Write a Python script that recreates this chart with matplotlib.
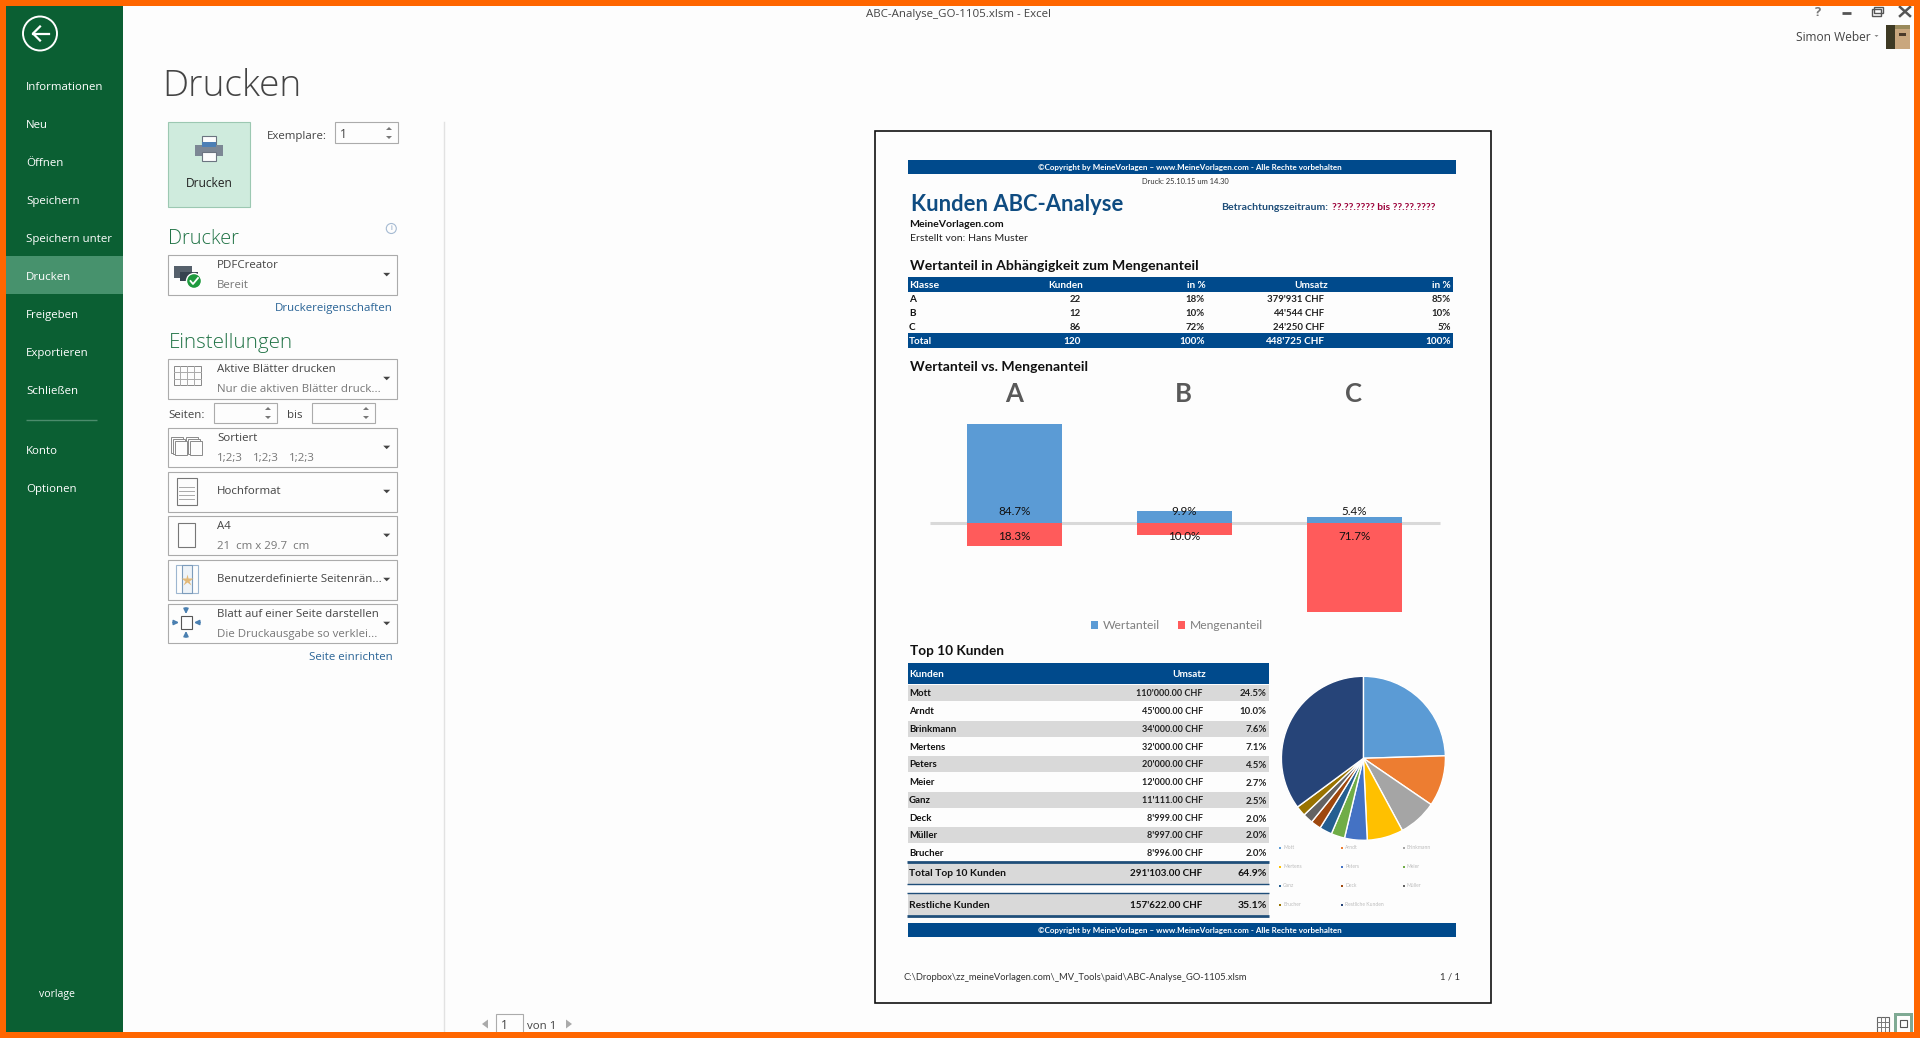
import matplotlib
matplotlib.use("Agg")
import matplotlib.pyplot as plt
from matplotlib.patches import Circle, Polygon, Rectangle

W, H = 1920, 1038

# chart data
classes = ["A", "B", "C"]
wertanteil = [84.7, 9.9, 5.4]
mengenanteil = [18.3, 10.0, 71.7]

kunden_names = ["Mott", "Arndt", "Brinkmann", "Mertens", "Peters", "Meier",
                "Ganz", "Deck", "Müller", "Brucher"]
kunden_umsatz = ["110'000.00 CHF", "45'000.00 CHF", "34'000.00 CHF", "32'000.00 CHF",
                 "20'000.00 CHF", "12'000.00 CHF", "11'111.00 CHF", "8'999.00 CHF",
                 "8'997.00 CHF", "8'996.00 CHF"]
kunden_pct = ["24.5%", "10.0%", "7.6%", "7.1%", "4.5%", "2.7%", "2.5%", "2.0%", "2.0%", "2.0%"]

pie_labels = kunden_names + ["Restliche Kunden"]
pie_values = [110000, 45000, 34000, 32000, 20000, 12000, 11111, 8999, 8997, 8996, 157622]
pie_colors = ["#5B9BD5", "#ED7D31", "#A5A5A5", "#FFC000", "#4472C4", "#70AD47",
              "#255E91", "#9E480E", "#636363", "#997300", "#264478"]

abc_rows = [
    ["A", "22", "18%", "379'931 CHF", "85%"],
    ["B", "12", "10%", "44'544 CHF", "10%"],
    ["C", "86", "72%", "24'250 CHF", "5%"],
]
abc_total = ["Total", "120", "100%", "448'725 CHF", "100%"]

menu_items = [("Informationen", 86), ("Neu", 124), ("Öffnen", 162), ("Speichern", 200),
              ("Speichern unter", 238), ("Drucken", 276), ("Freigeben", 314),
              ("Exportieren", 352), ("Schließen", 390), ("Konto", 450), ("Optionen", 488)]

NAVY = "#004A8C"
GREEN = "#0B5F33"
UI = "Open Sans"
DOC = "Lato"

plt.rcParams["font.family"] = [UI, "DejaVu Sans"]

fig = plt.figure(figsize=(W / 100, H / 100), dpi=100, facecolor="#FDFDFD")
# pixel canvas for the window chrome and the printed page
bg = fig.add_axes([0, 0, 1, 1])
bg.set_xlim(0, W)
bg.set_ylim(H, 0)
bg.axis("off")


def rect(x0, y0, x1, y1, fc="none", ec="none", lw=0.0, z=1):
    bg.add_patch(Rectangle((x0, y0), x1 - x0, y1 - y0, facecolor=fc, edgecolor=ec, linewidth=lw, zorder=z))


def txt(x, y, s, px=12, color="#444444", ha="left", weight="normal", family=UI, z=5):
    # va center sits a little high, so nudge down one pixel
    bg.text(x, y + 1, s, fontsize=px * 0.72, color=color, ha=ha, va="center",
            fontweight=weight, family=[family, "DejaVu Sans"], zorder=z)


def hline(x0, x1, y, color, lw):
    bg.plot([x0, x1], [y, y], color=color, lw=lw, solid_capstyle="butt", zorder=4)


def caret(x, y, color="#444444", size=4, up=False):
    d = -size if up else size
    bg.add_patch(Polygon([(x - size, y - d / 2), (x + size, y - d / 2), (x, y + d / 2)],
                         facecolor=color, edgecolor="none", zorder=5))


def side_arrow(x, y, direction, color):
    bg.add_patch(Polygon([(x, y - 4.5), (x, y + 4.5), (x + 6 * direction, y)],
                         facecolor=color, edgecolor="none", zorder=5))


# ---- window frame and sidebar
rect(0, 0, W, 6, fc="#FF6600", z=9)
rect(0, 1032, W, H, fc="#FF6600", z=9)
rect(0, 0, 6, H, fc="#FF6600", z=9)
rect(1914, 0, W, H, fc="#FF6600", z=9)
rect(6, 6, 123, 1032, fc=GREEN)
rect(6, 256, 123, 294, fc="#47926D", z=2)
bg.add_patch(Circle((40, 33.5), 17, facecolor="none", edgecolor="white", lw=1.4, zorder=4))
bg.plot([33, 49], [33.5, 33.5], color="white", lw=1.6, zorder=4)
bg.plot([40, 33, 40], [26.5, 33.5, 40.5], color="white", lw=1.6, zorder=4)
for name, y in menu_items:
    txt(26, y + 0.3, name, px=11.5, color="white")
hline(26, 97, 419.5, "#4C8C6C", 1)
txt(57, 993, "vorlage", px=10.5, color="white", ha="center")

txt(959, 13, "ABC-Analyse_GO-1105.xlsm - Excel", px=11.5, color="#444444", ha="center")
txt(1817, 12, "?", px=13, color="#777777", ha="center", weight="bold")
hline(1842, 1851, 12.5, "#555555", 2)
rect(1872, 9, 1881, 16, ec="#555555", lw=1, z=4)
rect(1874, 7, 1883, 13, ec="#555555", lw=1, z=4)
bg.plot([1900, 1910], [7, 16], color="#555555", lw=1.8, zorder=4)
bg.plot([1900, 1910], [16, 7], color="#555555", lw=1.8, zorder=4)
txt(1796, 36.5, "Simon Weber", px=12, color="#444444")
caret(1876.5, 36, color="#888888", size=2)
# avatar
rect(1886, 25, 1910, 49, fc="#C9A77E", z=3)
rect(1886, 25, 1895, 49, fc="#3E3A24", z=4)
rect(1895, 25, 1910, 29, fc="#9A8A5C", z=4)
rect(1899, 33, 1906, 36, fc="#4A3A2A", z=4)

# ---- left print pane
txt(162, 85, "Drucken", px=37, color="#444444", weight="light")
rect(168, 122, 249.5, 207, fc="#CFEBDD", ec="#9CC8B2", lw=0.8)
# printer glyph
rect(202, 136, 216, 146, fc="#FDFDFD", ec="#6B7480", lw=0.8, z=3)
rect(195, 145, 223, 156, fc="#7C8794", z=3)
rect(202, 142, 216, 147, fc="#4C7FB5", z=4)
rect(202, 152, 216, 161, fc="#FDFDFD", ec="#6B7480", lw=0.8, z=4)
txt(209, 182.5, "Drucken", px=12, color="#222222", ha="center", weight="medium")

txt(267, 135, "Exemplare:", px=11.5)
rect(335, 122, 397.5, 143, fc="#FDFDFD", ec="#ABABAB", lw=0.8)
txt(340, 133.5, "1", px=12)
caret(389, 128.5, color="#777777", size=3, up=True)
caret(389, 137.5, color="#777777", size=3)

txt(168.5, 238.5, "Drucker", px=20, color="#217346", weight="light")
bg.add_patch(Circle((391.3, 228.5), 5, facecolor="none", edgecolor="#A5BAD2", lw=0.8, zorder=4))
txt(391.3, 227.5, "i", px=7, color="#6E8FB5", ha="center")
txt(168.5, 342, "Einstellungen", px=20.5, color="#217346", weight="light")

combos = [
    (254.7, 294.5, "PDFCreator", "Bereit"),
    (358.5, 398.5, "Aktive Blätter drucken", "Nur die aktiven Blätter druck..."),
    (427.5, 467.3, "Sortiert", None),
    (471.5, 511.5, "Hochformat", None),
    (515.5, 555.3, "A4", "21  cm x 29.7  cm"),
    (559.5, 599.5, "Benutzerdefinierte Seitenrän...", None),
    (603.5, 643.4, "Blatt auf einer Seite darstellen", "Die Druckausgabe so verklei..."),
]
for y0, y1, first, second in combos:
    rect(168, y0, 396.5, y1, fc="#FDFDFD", ec="#ABABAB", lw=0.8)
    caret(386.7, (y0 + y1) / 2, color="#444444", size=3.5)
    if second is not None or first == "Sortiert":
        txt(217, y0 + 10.3, first, px=11.5)
        if second:
            txt(217, y0 + 30.3, second, px=11.5, color="#777777")
    else:
        txt(217, (y0 + y1) / 2 - 1, first, px=11.5)
for x in (217.3, 253.3, 289.3):
    txt(x, 457.5, "1;2;3", px=11.5, color="#777777")

# combo glyphs
rect(174, 266, 192, 278, fc="#55606B", z=3)
rect(180, 272, 198, 281, fc="#36424E", z=3)
bg.add_patch(Circle((194, 281), 7.5, facecolor="#1E9A3E", edgecolor="white", lw=1, zorder=4))
bg.plot([190.5, 193, 198], [281, 284, 278], color="white", lw=1.3, zorder=5)
rect(173.5, 366, 200.5, 385, ec="#888888", lw=0.7, z=3)
for x in (180, 187, 194):
    bg.plot([x, x], [366, 385], color="#AAAAAA", lw=0.7, zorder=3)
for y in (372, 378.5):
    bg.plot([173.5, 200.5], [y, y], color="#AAAAAA", lw=0.7, zorder=3)
for x in (171, 186):
    for dx in (0, 2, 4):
        rect(x + dx, 437 + dx, x + dx + 12, 453 + dx * 0.6, fc="#FDFDFD", ec="#8A8A8A", lw=0.7, z=3 + dx)
rect(176.5, 477.5, 196.5, 505, ec="#777777", lw=0.8, z=3)
for y in (487, 491, 495, 499):
    bg.plot([179, 194], [y, y], color="#AAAAAA", lw=0.7, zorder=3)
rect(178, 523, 194.5, 546.5, ec="#777777", lw=0.8, z=3)
rect(176, 565, 197.5, 592.5, ec="#9DB6D0", lw=0.8, z=3)
rect(182, 565, 192, 592.5, fc="#EEF3F8", ec="#7C9CBC", lw=0.8, z=3)
bg.plot([186.8], [579.5], marker="*", ms=9, color="#E3B978", mec="none", zorder=5)
rect(181, 616, 192, 629, fc="#FDFDFD", ec="#555555", lw=0.8, z=3)
for a, b in [((186, 608), (186, 614)), ((186, 637), (186, 631)),
             ((173, 622.5), (179, 622.5)), ((200, 622.5), (194, 622.5))]:
    bg.annotate("", xy=b, xytext=a, arrowprops=dict(arrowstyle="-|>", color="#4A7FB0", lw=1.2,
                                                    mutation_scale=7, shrinkA=0, shrinkB=0))

txt(393, 307, "Druckereigenschaften", px=11.5, color="#2A6496", ha="right")
txt(393, 656, "Seite einrichten", px=11.5, color="#2A6496", ha="right")

txt(168, 414, "Seiten:", px=11.5)
txt(286.5, 414, "bis", px=11.5)
for x0, x1 in [(214, 276.5), (312, 374.5)]:
    rect(x0, 402.5, x1, 423.3, fc="#FDFDFD", ec="#ABABAB", lw=0.8)
    caret(x1 - 8.5, 408.5, color="#777777", size=3, up=True)
    caret(x1 - 8.5, 417.5, color="#777777", size=3)

bg.plot([444, 444], [122, 1032], color="#E2E2E2", lw=1, zorder=1)

# ---- page navigation and view buttons
side_arrow(488, 1024, -1, "#AAAAAA")
rect(496, 1014, 523, 1034, fc="#FDFDFD", ec="#ABABAB", lw=0.8, z=3)
txt(501, 1024.5, "1", px=12)
txt(527, 1025.5, "von 1", px=11.5)
side_arrow(566, 1024, 1, "#AAAAAA")
rect(1877, 1017, 1889, 1032, ec="#666666", lw=0.8, z=3)
bg.plot([1877, 1889], [1022, 1022], color="#777777", lw=0.7, zorder=3)
bg.plot([1877, 1889], [1027, 1027], color="#777777", lw=0.7, zorder=3)
bg.plot([1881, 1881], [1017, 1032], color="#777777", lw=0.7, zorder=3)
bg.plot([1885, 1885], [1017, 1032], color="#777777", lw=0.7, zorder=3)
rect(1894, 1013, 1913, 1032, fc="#7FAA94", z=3)
rect(1897, 1016, 1910, 1032, fc="#FDFDFD", z=4)
rect(1900, 1020, 1907, 1027, ec="#555555", lw=0.8, z=5)

# ---- printed page
rect(874.5, 130.5, 1491, 1003, fc="#FDFDFD", ec="#111111", lw=1.2, z=1)
rect(908, 160, 1456, 173.7, fc=NAVY, z=2)
COPY = "©Copyright by MeineVorlagen – www.MeineVorlagen.com - Alle Rechte vorbehalten"
txt(1189.5, 166.5, COPY, px=8, color="white", ha="center", weight="bold", family=DOC)
txt(1185.5, 180.5, "Druck: 25.10.15 um 14.30", px=7.5, color="#333333", ha="center", family=DOC)
txt(911, 203.5, "Kunden ABC-Analyse", px=22, color="#0F4C81", weight="bold", family=DOC)
txt(1221.5, 206.5, "Betrachtungszeitraum:", px=10.5, color="#1F4E79", weight="bold", family=DOC)
txt(1332, 206.5, "??.??.???? bis ??.??.????", px=10.2, color="#9C0039", weight="bold", family=DOC)
txt(909.5, 223.5, "MeineVorlagen.com", px=10.5, color="#111111", weight="bold", family=DOC)
txt(909.5, 237.5, "Erstellt von: Hans Muster", px=10.5, color="#222222", family=DOC)
txt(910.5, 265.5, "Wertanteil in Abhängigkeit zum Mengenanteil", px=14, color="#111111", weight="bold", family=DOC)
txt(910.5, 366, "Wertanteil vs. Mengenanteil", px=14, color="#111111", weight="bold", family=DOC)
txt(909.5, 650, "Top 10 Kunden", px=13.6, color="#111111", weight="bold", family=DOC)

# ABC table
rect(908, 277.3, 1452.6, 292, fc=NAVY, z=2)
rect(908, 333.3, 1452.6, 348, fc=NAVY, z=2)
head_right = [1083, 1206, 1328, 1450.6]
row_right = [1081, 1204.7, 1324.4, 1450.6]
for label, xr in zip(["Kunden", "in %", "Umsatz", "in %"], head_right):
    txt(xr, 284.5, label, px=10, color="white", ha="right", weight="bold", family=DOC)
txt(909, 284.5, "Klasse", px=10.5, color="white", weight="bold", family=DOC)
for row, y in zip(abc_rows, [298.5, 312.5, 326.5]):
    txt(909, y, row[0], px=10, color="#111111", weight="bold", family=DOC)
    for val, xr in zip(row[1:], row_right):
        txt(xr, y, val, px=9.6, color="#222222", ha="right", weight="bold", family=DOC)
txt(909, 340.5, abc_total[0], px=10, color="white", weight="bold", family=DOC)
for val, xr in zip(abc_total[1:], row_right):
    txt(xr, 340.5, val, px=10, color="white", ha="right", weight="bold", family=DOC)

# Top 10 table
rect(908, 663.3, 1269, 684, fc=NAVY, z=2)
txt(909, 673.5, "Kunden", px=10, color="white", weight="bold", family=DOC)
txt(1206, 673.5, "Umsatz", px=10, color="white", ha="right", weight="bold", family=DOC)
row_y = [692.7, 710.7, 728.7, 746.7, 764, 782, 800, 818, 835, 853]
for i, y in enumerate(row_y):
    if i % 2 == 0:
        rect(908, y - 8, 1269, y + 8, fc="#D9D9D9", z=2)
    txt(909, y - 0.5, kunden_names[i], px=9.6, color="#111111", weight="bold", family=DOC)
    txt(1202.7, y - 0.5, kunden_umsatz[i], px=9, color="#222222", ha="right", weight="bold", family=DOC)
    txt(1266.6, y, kunden_pct[i], px=9.6, color="#222222", ha="right", weight="bold", family=DOC)
rect(908, 862.7, 1269, 884, fc="#D9D9D9", z=2)
rect(908, 894, 1269, 915.3, fc="#D9D9D9", z=2)
hline(907, 1269, 861.7, "#1F4E79", 2)
hline(907, 1269, 884.3, "#1F4E79", 1)
hline(907, 1269, 893.3, "#1F4E79", 1)
hline(907, 1269, 916, "#1F4E79", 2)
for y, name, val, pct in [(873, "Total Top 10 Kunden", "291'103.00 CHF", "64.9%"),
                          (904.5, "Restliche Kunden", "157'622.00 CHF", "35.1%")]:
    txt(909, y, name, px=10.2, color="#111111", weight="bold", family=DOC)
    txt(1202, y, val, px=9.9, color="#111111", ha="right", weight="bold", family=DOC)
    txt(1266.6, y, pct, px=10.5, color="#111111", ha="right", weight="bold", family=DOC)

rect(908, 923.3, 1456, 936.7, fc=NAVY, z=2)
txt(1189.5, 930, COPY, px=8, color="white", ha="center", weight="bold", family=DOC)
txt(904, 976.5, "C:\\Dropbox\\zz_meineVorlagen.com\\_MV_Tools\\paid\\ABC-Analyse_GO-1105.xlsm", px=9.4, color="#333333", family=DOC)
txt(1460, 976.5, "1 / 1", px=9.5, color="#333333", ha="right", family=DOC)


# ---- butterfly bars, split at the grey zero line
def px_axes(x0, y0, x1, y1):
    ax = fig.add_axes([x0 / W, 1 - y1 / H, (x1 - x0) / W, (y1 - y0) / H])
    ax.patch.set_alpha(0)
    ax.axis("off")
    return ax


bar_up = px_axes(929.5, 424, 1439.5, 523)
bar_dn = px_axes(929.5, 523, 1439.5, 612)
bar_up.set_xlim(-0.5, 2.5)
bar_dn.set_xlim(-0.5, 2.5)
bar_up.set_ylim(0, max(wertanteil))
bar_dn.set_ylim(max(mengenanteil), 0)
pos = list(range(len(classes)))
up = bar_up.bar(pos, wertanteil, width=0.558, color="#5B9BD5", label="Wertanteil")
dn = bar_dn.bar(pos, mengenanteil, width=0.558, color="#FF5B5B", label="Mengenanteil")
hline(930, 1440, 523, "#D9D9D9", 2.2)
for i, name in enumerate(classes):
    bar_up.text(i - 0.005, 1.30, name, transform=bar_up.get_xaxis_transform(), ha="center", va="center",
                fontsize=18.5, color="#595959", family=[DOC, "DejaVu Sans"], fontweight="bold",
                clip_on=False)
    bar_up.text(i, 9.5, f"{wertanteil[i]:.1f}%", ha="center", va="center", fontsize=8.4,
                color="#111111", family=[DOC, "DejaVu Sans"], zorder=6)
    bar_dn.text(i, 10.5, f"{mengenanteil[i]:.1f}%", ha="center", va="center", fontsize=8.4,
                color="#111111", family=[DOC, "DejaVu Sans"], zorder=6)
fig.legend(handles=[up, dn], loc="center", bbox_to_anchor=(1177 / W, 1 - 625.5 / H), ncol=2, frameon=False,
           prop={"family": DOC, "size": 8.7}, labelcolor="#7F7F7F", handlelength=0.6, handleheight=0.7,
           handletextpad=0.4, columnspacing=1.45)

# ---- pie
pie_ax = px_axes(1281.4, 676.3, 1445.4, 840.3)
pie_ax.pie(pie_values, colors=pie_colors, startangle=90, counterclock=False, radius=1,
           wedgeprops={"edgecolor": "white", "linewidth": 1})
pie_ax.set_xlim(-1, 1)
pie_ax.set_ylim(-1, 1)
leg_x = [1279, 1341, 1402.5]
leg_y = [847.7, 866.7, 885.7, 905]
for i, name in enumerate(pie_labels):
    x, y = leg_x[i % 3], leg_y[i // 3]
    rect(x, y - 1, x + 2, y + 1, fc=pie_colors[i], z=3)
    txt(x + 4, y - 1, name, px=5, color="#BBBBBB", family=DOC)

fig.savefig("out.png", dpi=100, facecolor=fig.get_facecolor())
